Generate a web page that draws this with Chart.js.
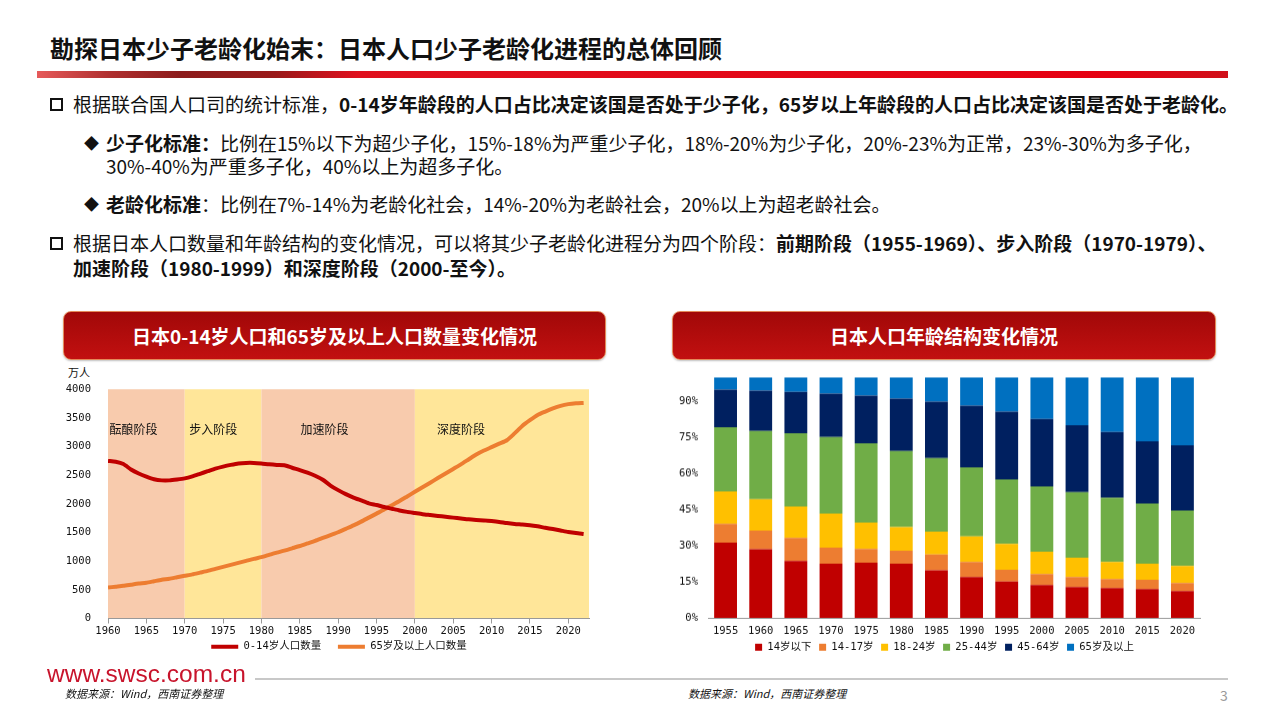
<!DOCTYPE html>
<html>
<head>
<meta charset="utf-8">
<script src="https://cdn.jsdelivr.net/npm/chart.js@4.4.0/dist/chart.umd.min.js"></script>
<style>
body { margin: 0; background: #fff; font-family: "Noto Sans CJK SC", sans-serif; }
#page { position: relative; width: 1280px; height: 720px; overflow: hidden; }
.abs { position: absolute; white-space: nowrap; }
.title { left: 50px; top: 32px; font-size: 24px; line-height: 32px; font-weight: bold; color: #111; }
.redbar { left: 37px; top: 71px; width: 1191px; height: 7px;
  background: linear-gradient(to right, #e65a5a 0%, #b03030 6%, #8c1c1c 12%, #9a1a1a 20%, #e0101e 27%, #e60012 90%, #d0101a 100%); }
.ln { font-size: 19px; line-height: 24px; color: #111; }
.ln b { font-weight: bold; }
.sq { left: 50px; width: 9px; height: 9px; border: 2.5px solid #111; }
.dm { font-size: 15px; line-height: 24px; color: #111; }
.cbox { top: 311px; height: 47px; border-radius: 8px; border: 1px solid #e48a5a;
  background: linear-gradient(#a10808, #c21010); color: #fff; font-weight: bold; font-size: 19px;
  line-height: 47px; text-align: center; box-shadow: 0 1px 2px rgba(0,0,0,0.25); }
.src { font-size: 11px; font-style: italic; color: #111; }
</style>
</head>
<body>
<div id="page">
  <div class="abs title">勘探日本少子老龄化始末：日本人口少子老龄化进程的总体回顾</div>
  <div class="abs redbar"></div>

  <div class="abs sq" style="top:98px"></div>
  <div class="abs ln" style="left:73px;top:92px">根据联合国人口司的统计标准，<b>0-14岁年龄段的人口占比决定该国是否处于少子化，65岁以上年龄段的人口占比决定该国是否处于老龄化。</b></div>

  <div class="abs dm" style="left:84px;top:131px">◆</div>
  <div class="abs ln" style="left:106px;top:131px"><b>少子化标准：</b>比例在15%以下为超少子化，15%-18%为严重少子化，18%-20%为少子化，20%-23%为正常，23%-30%为多子化，</div>
  <div class="abs ln" style="left:106px;top:154px">30%-40%为严重多子化，40%以上为超多子化。</div>

  <div class="abs dm" style="left:84px;top:192px">◆</div>
  <div class="abs ln" style="left:106px;top:192px"><b>老龄化标准</b>：比例在7%-14%为老龄化社会，14%-20%为老龄社会，20%以上为超老龄社会。</div>

  <div class="abs sq" style="top:237px"></div>
  <div class="abs ln" style="left:73px;top:231px">根据日本人口数量和年龄结构的变化情况，可以将其少子老龄化进程分为四个阶段：<b>前期阶段（1955-1969）、步入阶段（1970-1979）、</b></div>
  <div class="abs ln" style="left:73px;top:256px"><b>加速阶段（1980-1999）和深度阶段（2000-至今）。</b></div>

  <div class="abs cbox" style="left:63px;width:541px">日本0-14岁人口和65岁及以上人口数量变化情况</div>
  <div class="abs cbox" style="left:672px;width:542px">日本人口年龄结构变化情况</div>

  <div class="abs" style="left:68px;top:365px;font-size:11px;line-height:14px;color:#111">万人</div>
  <div class="abs" style="left:60px;top:375px;width:545px;height:287px"><canvas id="popChart"></canvas></div>
  <div class="abs" style="left:670px;top:362px;width:545px;height:299.5px"><canvas id="ageChart"></canvas></div>

  <div class="abs" style="left:47px;top:662px;font-family:'Liberation Sans',Arial,sans-serif;font-size:24.5px;line-height:24px;color:#c8142c">www.swsc.com.cn</div>
  <div class="abs" style="left:255px;top:678px;width:973px;height:2px;background:#c8c8c8"></div>
  <div class="abs src" style="left:65px;top:685px">数据来源：Wind，西南证券整理</div>
  <div class="abs src" style="left:688px;top:685px">数据来源：Wind，西南证券整理</div>
  <div class="abs" style="left:1220px;top:685px;font-size:14px;color:#999">3</div>
</div>

<script>
// Left chart: 0-14 and 65+ population, 10k persons
const years = [
  1960, 1961, 1962, 1963, 1964, 1965, 1966, 1967, 1968, 1969,
  1970, 1971, 1972, 1973, 1974, 1975, 1976, 1977, 1978, 1979,
  1980, 1981, 1982, 1983, 1984, 1985, 1986, 1987, 1988, 1989,
  1990, 1991, 1992, 1993, 1994, 1995, 1996, 1997, 1998, 1999,
  2000, 2001, 2002, 2003, 2004, 2005, 2006, 2007, 2008, 2009,
  2010, 2011, 2012, 2013, 2014, 2015, 2016, 2017, 2018, 2019,
  2020, 2021, 2022
];
const kids = [
  2750, 2735, 2695, 2600, 2530, 2475, 2430, 2410, 2410, 2425,
  2445, 2480, 2525, 2570, 2615, 2650, 2680, 2705, 2715, 2715,
  2705, 2690, 2680, 2675, 2630, 2590, 2545, 2490, 2420, 2320,
  2240, 2170, 2110, 2060, 2010, 1980, 1945, 1915, 1885, 1860,
  1840, 1820, 1805, 1790, 1775, 1760, 1745, 1730, 1720, 1712,
  1700, 1685, 1665, 1650, 1640, 1628, 1608, 1582, 1560, 1535,
  1510, 1490, 1475
];
const elderly = [
  540, 555, 570, 590, 610, 625, 650, 675, 695, 720,
  745, 770, 800, 830, 865, 900, 935, 970, 1005, 1040,
  1070, 1110, 1150, 1185, 1225, 1265, 1310, 1355, 1405, 1455,
  1505, 1565, 1625, 1690, 1760, 1830, 1900, 1975, 2050, 2130,
  2210, 2290, 2370, 2450, 2530, 2610, 2690, 2775, 2860, 2930,
  2990, 3050, 3110, 3230, 3360, 3460, 3550, 3610, 3665, 3710,
  3740, 3755, 3760
];
const stageNames = ['酝酿阶段', '步入阶段', '加速阶段', '深度阶段'];
const stageStarts = [1960, 1970, 1980, 2000];
const stageEnds = [1970, 1980, 2000, 2030];

// Right chart: age structure, % of total
const barYears = ['1955', '1960', '1965', '1970', '1975', '1980', '1985', '1990', '1995', '2000', '2005', '2010', '2015', '2020'];
const ageUnder14 = [31.3, 28.6, 23.7, 22.5, 22.9, 22.5, 19.8, 17.0, 15.1, 13.7, 12.8, 12.4, 12.0, 11.2];
const age14to17 = [7.8, 7.7, 9.6, 6.7, 5.8, 5.4, 6.6, 6.3, 4.9, 4.6, 4.2, 3.8, 3.8, 3.3];
const age18to24 = [13.5, 13.0, 13.0, 14.2, 10.9, 9.8, 9.5, 10.6, 10.8, 9.2, 8.0, 7.1, 6.7, 7.1];
const age25to44 = [26.7, 28.4, 30.4, 31.8, 33.0, 31.6, 30.5, 28.7, 26.8, 27.1, 27.2, 26.7, 25.1, 23.0];
const age45to64 = [15.6, 16.8, 17.3, 18.0, 19.8, 21.8, 23.5, 25.6, 28.1, 28.1, 27.9, 27.3, 25.8, 27.1];
const age65plus = [5.1, 5.5, 6.0, 6.8, 7.6, 8.9, 10.1, 11.8, 14.3, 17.3, 19.9, 22.7, 26.6, 28.3];

const smallFont = { family: '"DejaVu Sans Mono", "Noto Sans CJK SC"', size: 10.5, lineHeight: 1 };
Chart.defaults.color = '#111';

// pad legend texts (per item) to space and shift the items like the original
const spacedLabels = pads => chart =>
  Chart.defaults.plugins.legend.labels.generateLabels(chart).map((l, i) => ({ ...l, text: l.text + (pads[i] || '') }));

// stage background bands + labels, positioned by the x scale
const bandColors = ['#f8cbad', '#ffe699', '#f8cbad', '#ffe699'];
const bandLabelAt = [1960.2, 1970.6, 1985.1, 2002.9];
const stageBands = {
  id: 'stageBands',
  beforeDraw(chart) {
    const { ctx, chartArea, scales: { x, y } } = chart;
    ctx.save();
    stageStarts.forEach((s, i) => {
      const x0 = x.getPixelForValue(s);
      const x1 = x.getPixelForValue(Math.min(stageEnds[i], x.max));
      ctx.fillStyle = bandColors[i];
      ctx.fillRect(x0, chartArea.top, x1 - x0, chartArea.bottom - chartArea.top);
    });
    ctx.fillStyle = '#111';
    ctx.font = '12px "Noto Sans CJK SC"';
    ctx.textBaseline = 'middle';
    stageNames.forEach((n, i) => {
      ctx.fillText(n, x.getPixelForValue(bandLabelAt[i]), y.getPixelForValue(3300));
    });
    ctx.restore();
  }
};

new Chart(document.getElementById('popChart'), {
  type: 'line',
  data: {
    datasets: [{
      label: '0-14岁人口数量',
      data: kids.map((v, i) => ({ x: years[i], y: v })),
      borderColor: '#c00000',
      backgroundColor: '#c00000',
      borderWidth: 4,
      pointRadius: 0,
      tension: 0.2
    }, {
      label: '65岁及以上人口数量',
      data: elderly.map((v, i) => ({ x: years[i], y: v })),
      borderColor: '#ed7d31',
      backgroundColor: '#ed7d31',
      borderWidth: 4,
      pointRadius: 0,
      tension: 0.2
    }]
  },
  options: {
    responsive: true,
    maintainAspectRatio: false,
    animation: false,
    layout: { padding: { top: 9, right: 16, left: 0, bottom: 0 } },
    scales: {
      x: {
        type: 'linear',
        min: 1960,
        max: 2022.7,
        afterFit: s => { s.height = 19; },
        ticks: { stepSize: 5, includeBounds: false, padding: 3, maxRotation: 0, font: smallFont, color: '#111', callback: v => String(v) },
        grid: { display: true, drawOnChartArea: false, tickLength: 5, color: '#999' },
        border: { color: '#999' }
      },
      y: {
        min: 0,
        max: 4000,
        afterFit: s => { s.width = 48; },
        ticks: { stepSize: 500, padding: 9, font: smallFont, color: '#111', callback: v => String(v) },
        grid: { display: false },
        border: { display: false }
      }
    },
    plugins: {
      legend: {
        position: 'bottom',
        fullSize: false,
        labels: {
          usePointStyle: true, pointStyle: 'line', pointStyleWidth: 27, padding: 4,
          font: smallFont, color: '#111', generateLabels: spacedLabels(['  ', '   '])
        }
      },
      tooltip: { enabled: false }
    }
  },
  plugins: [stageBands]
});

const ageSeries = [
  ['14岁以下', ageUnder14, '#c00000'],
  ['14-17岁', age14to17, '#ed7d31'],
  ['18-24岁', age18to24, '#ffc000'],
  ['25-44岁', age25to44, '#70ad47'],
  ['45-64岁', age45to64, '#002060'],
  ['65岁及以上', age65plus, '#0070c0']
];

new Chart(document.getElementById('ageChart'), {
  type: 'bar',
  data: {
    labels: barYears,
    datasets: ageSeries.map(([label, data, color]) => ({
      label, data, backgroundColor: color,
      barPercentage: 0.65, categoryPercentage: 1
    }))
  },
  options: {
    responsive: true,
    maintainAspectRatio: false,
    animation: false,
    layout: { padding: { top: 5, right: 15, left: 0, bottom: 0 } },
    scales: {
      x: {
        stacked: true,
        afterFit: s => { s.height = 22.7; },
        ticks: { padding: 8, maxRotation: 0, font: smallFont, color: '#111' },
        grid: { display: false, drawTicks: false },
        border: { color: '#999' }
      },
      y: {
        stacked: true,
        min: 0,
        max: 100,
        afterFit: s => { s.width = 38; },
        ticks: { stepSize: 15, includeBounds: false, padding: 10, font: smallFont, color: '#111', callback: v => v + '%' },
        grid: { display: false, drawTicks: false },
        border: { display: false }
      }
    },
    plugins: {
      legend: {
        position: 'bottom',
        fullSize: false,
        labels: {
          boxWidth: 7, boxHeight: 7, padding: 1.3,
          font: smallFont, color: '#111', generateLabels: spacedLabels([' ', ' ', ' ', ' ', ' ', '   '])
        }
      },
      tooltip: { enabled: false }
    }
  }
});
</script>
</body>
</html>
